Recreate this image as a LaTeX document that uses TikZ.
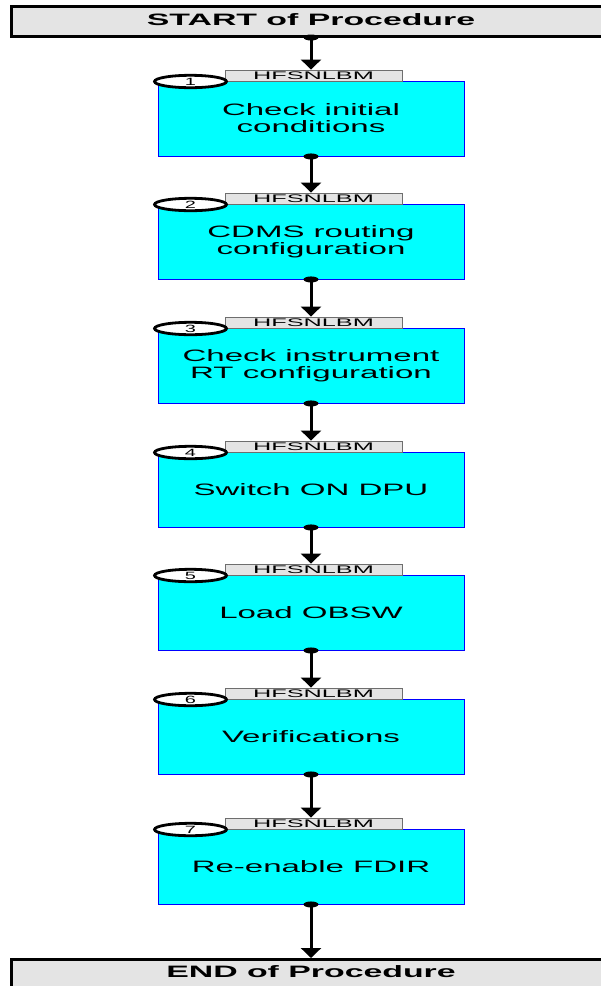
\documentclass[tikz,border=0pt]{standalone}
\usepackage{fontspec}
\setmainfont{Liberation Sans}
\newfontfamily\boxfont[FakeStretch=2.0]{Liberation Sans}
\newfontfamily\tabfont[FakeStretch=2.3]{Liberation Sans}
\newfontfamily\numfont[FakeStretch=1.9]{Liberation Sans}
\newfontfamily\titlefont[FakeStretch=2.05]{Liberation Sans}
\usetikzlibrary{arrows.meta,shapes.geometric}
\definecolor{boxcyan}{RGB}{0,255,255}
\definecolor{tabgray}{RGB}{228,228,228}
\definecolor{tabline}{RGB}{110,110,110}
\tikzset{
  stepbox/.style={rectangle, draw=blue, fill=boxcyan, line width=0.9pt,
    minimum width=306pt, minimum height=75pt, inner sep=0pt, align=center,
    font=\boxfont\fontsize{16.5}{17}\selectfont},
  tabbox/.style={rectangle, draw=tabline, fill=tabgray, line width=0.9pt,
    minimum width=177pt, minimum height=11pt, inner sep=0pt,
    font=\tabfont\fontsize{11}{11}\selectfont},
  numoval/.style={inner sep=0pt, font=\numfont\fontsize{10.5}{10.5}\selectfont},
  ovalline/.style={draw=black, fill=white, line width=2.8pt},
  termbox/.style={rectangle, draw=black, fill=tabgray, line width=2.5pt,
    inner sep=0pt, anchor=north west},
  termtext/.style={inner sep=0pt, font=\titlefont\bfseries\fontsize{16.5}{17}\selectfont},
  flow/.style={line width=3pt, -{Triangle[width=20pt,length=10pt]}},
  dot/.style={fill=black}
}
\begin{document}
\begin{tikzpicture}[x=1pt,y=-1pt]
\useasboundingbox (0,0) rectangle (601,986);
\clip (0,0) rectangle (601,986);
\fill[white] (0,0) rectangle (601,986);
% start / end
\node[termbox, minimum width=620pt, minimum height=30pt] (start) at (10,5) {};
\node[termtext] (startlbl) at (311,20) {START of Procedure};
\node[termbox, minimum width=620pt, minimum height=45pt] (end) at (10,958) {};
\node[termtext] (endlbl) at (311,971.5) {END of Procedure};
% steps
\foreach \i/\top/\txt in {1/81/{Check initial\\conditions},
                         2/204/{CDMS routing\\configuration},
                         3/328/{Check instrument\\RT configuration},
                         4/452/{Switch ON DPU},
                         5/575/{Load OBSW},
                         6/699/{Verifications},
                         7/829/{Re-enable FDIR}}{
  \node[stepbox] (b\i) at (311,\top+37.5) {\txt};
  \node[tabbox] (t\i) at (313.5,\top-5.5) {HFSNLBM};
  \path[ovalline] (190.5,\top+0.5) ellipse (36pt and 6.2pt);
  \node[numoval] (n\i) at (190.5,\top+0.7) {\i};
}
% connectors
\draw[flow] (start.south -| startlbl) -- (t1.north -| startlbl);
\fill[dot] (start.south -| startlbl) ellipse (7.5pt and 3pt);
\foreach \a/\b in {1/2,2/3,3/4,4/5,5/6,6/7}{
  \draw[flow] (b\a.south) -- (t\b.north -| b\a.south);
  \fill[dot] (b\a.south) ellipse (7.5pt and 3pt);
}
\draw[flow] (b7.south) -- (end.north -| b7.south);
\fill[dot] (b7.south) ellipse (7.5pt and 3pt);
\end{tikzpicture}
\end{document}
